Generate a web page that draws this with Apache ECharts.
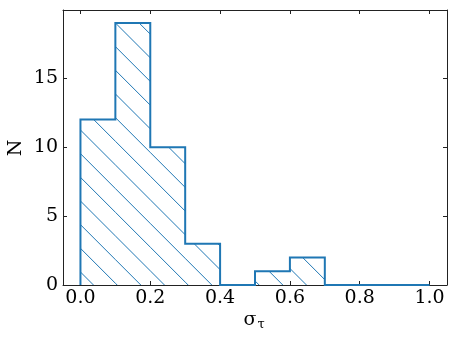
<!DOCTYPE html>
<html><head><meta charset="utf-8">
<script src="https://cdn.jsdelivr.net/npm/echarts@6/dist/echarts.min.js"></script>
<style>html,body{margin:0;padding:0;background:#fff}#c{width:458px;height:343px}</style>
</head><body><div id="c"></div>
<script>
const binEdges = [0.0,0.1,0.2,0.3,0.4,0.5,0.6,0.7,0.8,0.9,1.0];
const counts = [12,19,10,3,0,1,2,0,0,0];
const xTicks = [0,0.2,0.4,0.6,0.8,1.0];
const yTicks = [0,5,10,15];
const xRange = [-0.05,1.05];
const yRange = [0,19.95];

const BLUE = '#1f77b4';
const FONT = 'DejaVu Serif';
const AX = '#222';

function makeHatch(){
  const p = 71, step = p/3;
  const c = document.createElement('canvas'); c.width = p; c.height = p;
  const g = c.getContext('2d');
  g.strokeStyle = BLUE; g.lineWidth = 1;
  for (let k = -4; k <= 4; k++) {
    const off = 2.2 + k*step;
    g.beginPath(); g.moveTo(-20, -20+off); g.lineTo(p+20, p+20+off); g.stroke();
  }
  return c;
}
const hatchCanvas = makeHatch();

const stepData = [[binEdges[0],0]]
  .concat(counts.map((v,i)=>[binEdges[i],v]))
  .concat([[binEdges[binEdges.length-1], counts[counts.length-1]],[binEdges[binEdges.length-1],0]]);

const chart = echarts.init(document.getElementById('c'), null, {renderer:'canvas'});
const axisCommon = {
  type:'value', splitLine:{show:false},
  axisLine:{show:true, onZero:false, lineStyle:{color:AX, width:1}},
};
chart.setOption({
  animation:false,
  grid:{left:63, right:11, top:10, bottom:58},
  xAxis:[
    Object.assign({}, axisCommon, {position:'bottom', min:xRange[0], max:xRange[1],
      axisTick:{show:true, inside:true, length:4, customValues:xTicks, lineStyle:{color:AX}},
      axisLabel:{show:true, customValues:xTicks, formatter:v=>Number(v).toFixed(1), margin:4,
        fontFamily:FONT, fontSize:19, color:'#000'}}),
    Object.assign({}, axisCommon, {position:'top', min:xRange[0], max:xRange[1],
      axisTick:{show:true, inside:true, length:4, customValues:xTicks, lineStyle:{color:AX}},
      axisLabel:{show:false}})
  ],
  yAxis:[
    Object.assign({}, axisCommon, {position:'left', min:yRange[0], max:yRange[1],
      axisTick:{show:true, inside:true, length:4, customValues:yTicks, lineStyle:{color:AX}},
      axisLabel:{show:true, customValues:yTicks, margin:5, fontFamily:FONT, fontSize:19, color:'#000'}}),
    Object.assign({}, axisCommon, {position:'right', min:yRange[0], max:yRange[1],
      axisTick:{show:true, inside:true, length:4, customValues:yTicks, lineStyle:{color:AX}},
      axisLabel:{show:false}})
  ],
  series:[
    {
      type:'custom', xAxisIndex:0, yAxisIndex:0,
      data: counts.map((v,i)=>[binEdges[i], binEdges[i+1], v]),
      encode:{x:[0,1], y:2},
      renderItem:(params, api)=>{
        const p0 = api.coord([api.value(0), 0]);
        const p1 = api.coord([api.value(1), api.value(2)]);
        return {type:'rect', shape:{x:p0[0], y:p1[1], width:p1[0]-p0[0], height:p0[1]-p1[1]},
          style:{fill:{image:hatchCanvas, repeat:'repeat'}, stroke:null}};
      }
    },
    {
      type:'line', xAxisIndex:0, yAxisIndex:0, step:'end', data:stepData,
      symbol:'none', clip:false, z:5,
      lineStyle:{color:BLUE, width:2, join:'miter', cap:'butt'}
    }
  ],
  graphic:[
    {type:'text', x:16, y:148, rotation:Math.PI/2, style:{text:'N', font:'19px "DejaVu Serif"', fill:'#000', align:'center', verticalAlign:'middle'}},
    {type:'text', x:250, y:320, style:{text:'σ', font:'19px "DejaVu Serif"', fill:'#000', align:'center', verticalAlign:'middle'}},
    {type:'text', x:261, y:325, style:{text:'τ', font:'13px "DejaVu Serif"', fill:'#000', align:'center', verticalAlign:'middle'}}
  ]
});
</script></body></html>
